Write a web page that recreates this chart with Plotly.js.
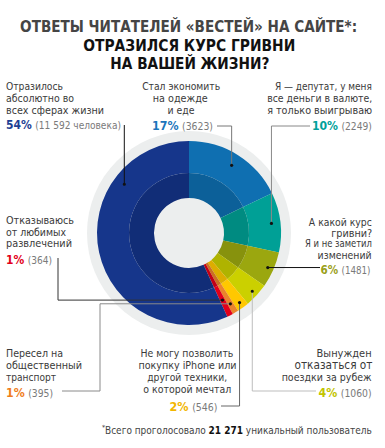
<!DOCTYPE html>
<html><head><meta charset="utf-8">
<script src="https://cdn.plot.ly/plotly-3.0.1.min.js"></script>
<style>html,body{margin:0;padding:0;background:#fff}#c{width:385px;height:448px}</style>
</head><body><div id="c"></div>
<script>
// ---- data ----
var categories = ["Стал экономить на одежде и еде","Я — депутат, у меня все деньги в валюте","А какой курс гривни?","Вынужден отказаться от поездки за рубеж","Не могу позволить покупку iPhone","Пересел на общественный транспорт","Отказываюсь от любимых развлечений","Отразилось абсолютно во всех сферах жизни"];
var percents = [17, 10, 6, 4, 2, 1, 1, 54];
var counts = ["3623", "2249", "1481", "1060", "546", "395", "364", "11 592 человека"];
var totalVoters = "21 271";

// ---- styles ----
var W = 385, H = 448;
var outerColors = ["#0f6fb1","#00a096","#9ba70f","#cbd000","#ffc800","#ea842c","#e2001b","#16368b"];
var innerColors = ["#0c6099","#008b81","#87920d","#afb300","#ddad00","#cb7022","#c20016","#112d77"];
var pctColors  = ["#1b75bb","#00a19a","#9aa01a","#c2c400","#f2b600","#f07d1a","#e2001a","#1d3f94"];
var cx = 189, cy = 233, rGrey = 102, rOuter = 92, rMid = 60, rHole = 35;
var FONT = "DejaVu Sans Condensed, DejaVu Sans, sans-serif";

function dom(r){ return {x:[(cx-r)/W,(cx+r)/W], y:[(H-cy-r)/H,(H-cy+r)/H]}; }
function pie(vals, colors, r, rin){
  return {type:'pie', values:vals, marker:{colors:colors, line:{width:0}}, sort:false,
    direction:'clockwise', rotation:0, hole:rin/r, domain:dom(r), textinfo:'none',
    hoverinfo:'none', showlegend:false};
}
var traces = [
  pie([1], ["#eceeee"], rGrey, 0),
  pie(percents, outerColors, rOuter, rMid),
  pie(percents, innerColors, rMid, rHole)
];

// dot positions from slice angles
var total = percents.reduce(function(a,b){return a+b;},0);
var cum = 0, mids = [];
percents.forEach(function(v){ mids.push((cum + v/2)/total*360); cum += v; });
var dotR = [80, 83, 86, 86, 86, 82, 75, 81];
var dotAngle = mids.slice(); dotAngle[7] = 307;
function dot(i){ var a = dotAngle[i]*Math.PI/180; return [cx + dotR[i]*Math.sin(a), cy - dotR[i]*Math.cos(a)]; }

var shapes = [];
function px(x){return x/W;} function py(y){return 1-y/H;}
function poly(pts, color){
  for (var k=0;k<pts.length-1;k++){
    shapes.push({type:'line', xref:'paper', yref:'paper', x0:px(pts[k][0]), y0:py(pts[k][1]), x1:px(pts[k+1][0]), y1:py(pts[k+1][1]), line:{color:color, width:1}});
  }
}
function marker(p){
  shapes.push({type:'circle', xref:'paper', yref:'paper', x0:px(p[0]-1.6), x1:px(p[0]+1.6), y0:py(p[1]+1.6), y1:py(p[1]-1.6), fillcolor:'#111', line:{width:0}});
}
var d;
d=dot(7); poly([d,[d[0],125]], '#111');
d=dot(0); poly([d,[d[0],126],[217,126]], '#777');
d=dot(1); poly([d,[d[0],126],[310,126]], '#888');
d=dot(2); poly([d,[320,d[1]]], '#111');
d=dot(3); poly([d,[d[0],391],[316,391]], '#bdbdbd');
d=dot(4); poly([d,[d[0],406],[221,406]], '#666');
d=dot(5); poly([d,[100,d[1]],[100,391],[62,391]], '#8a8a8a');
d=dot(6); poly([d,[58,d[1]],[58,258]], '#333');
for (var i=0;i<8;i++) marker(dot(i));

// ---- text ----
var specs = [];
function txt(x0, x1, y, t, anchor, size, color){
  specs.push({x0:x0, x1:x1, y:y, anchor:anchor, size:size||11.5, color:color||'#3a3a3a', build:function(){return t;}});
}
function pct(i, x0, x1, y, anchor){
  specs.push({x0:x0, x1:x1, y:y, anchor:anchor, size:13, color:'#3a3a3a', build:function(s){
    return '<b><span style="color:'+pctColors[i]+'">'+percents[i]+'%</span></b> <span style="color:#7a7a7a;font-size:'+(s*0.84).toFixed(1)+'px">('+counts[i]+')</span>';
  }});
}
function makeAnn(sp, s){
  var x = sp.anchor==='left' ? sp.x0 : sp.anchor==='right' ? sp.x1 : (sp.x0+sp.x1)/2;
  return {xref:'paper', yref:'paper', x:px(x), y:py(sp.y), xanchor:sp.anchor, yanchor:'middle', align:sp.anchor,
    showarrow:false, borderpad:0, text:sp.build(s), font:{family:FONT, size:s, color:sp.color}};
}
txt(20, 357, 27, '<b>ОТВЕТЫ ЧИТАТЕЛЕЙ «ВЕСТЕЙ» НА САЙТЕ*:</b>', 'center', 18, '#454545');
txt(83, 295, 45, '<b>ОТРАЗИЛСЯ КУРС ГРИВНИ</b>', 'center', 18, '#111');
txt(110, 269, 63, '<b>НА ВАШЕЙ ЖИЗНИ?</b>', 'center', 18, '#111');

txt(5, 62, 86, 'Отразилось', 'left'); txt(5, 73, 98, 'абсолютно во', 'left'); txt(5, 103, 110, 'всех сферах жизни', 'left');
pct(7, 5, 120, 125, 'left');
txt(142, 220, 86, 'Стал экономить', 'center'); txt(153, 208, 98, 'на одежде', 'center'); txt(167, 194, 110, 'и еде', 'center');
pct(0, 152, 213, 125, 'center');
txt(276, 373, 86, 'Я — депутат, у меня', 'right'); txt(268, 373, 98, 'все деньги в валюте,', 'right'); txt(268, 373, 110, 'я только выигрываю', 'right');
pct(1, 313, 373, 125, 'right');

txt(5, 73, 220, 'Отказываюсь', 'left'); txt(5, 65, 232, 'от любимых', 'left'); txt(5, 71, 244, 'развлечений', 'left');
pct(6, 5, 51, 260, 'left');
txt(310, 373, 222, 'А какой курс', 'right'); txt(332, 373, 233, 'гривни?', 'right'); txt(306, 373, 244, 'Я и не заметил', 'right'); txt(319, 373, 255, 'изменений', 'right');
pct(2, 322, 372, 270, 'right');

txt(5, 62, 353, 'Пересел на', 'left'); txt(5, 81, 365, 'общественный', 'left'); txt(5, 55, 377, 'транспорт', 'left');
pct(5, 5, 52, 392, 'left');
txt(140, 233, 353, 'Не могу позволить', 'center'); txt(138, 236, 365, 'покупку iPhone или', 'center'); txt(147, 227, 377, 'другой техники,', 'center'); txt(143, 231, 389, 'о которой мечтал', 'center');
pct(4, 170, 218, 406, 'right');
txt(318, 373, 353, 'Вынужден', 'right'); txt(295, 373, 365, 'отказаться от', 'right'); txt(283, 373, 377, 'поездки за рубеж', 'right');
pct(3, 320, 373, 392, 'right');

txt(103, 373, 429, '<sup>*</sup>Всего проголосовало <b><span style="color:#111">'+totalVoters+'</span></b> уникальный пользователь', 'right', 11.5, '#444');

var gd = document.getElementById('c');
var sizes = specs.map(function(sp){return sp.size;});
var layout = {width:W, height:H, margin:{l:0,r:0,t:0,b:0}, paper_bgcolor:'#fff',
  showlegend:false, shapes:shapes, annotations:specs.map(function(sp,i){return makeAnn(sp, sizes[i]);})};
function textEl(i){ return gd.querySelector('g.annotation[data-index="'+i+'"] text.annotation-text'); }
Plotly.newPlot(gd, traces, layout, {staticPlot:true}).then(function(){
  // pass 1: shrink the type where the reference's condensed face is much narrower
  specs.forEach(function(sp, i){
    var t = textEl(i); if (!t) return;
    var nat = t.getComputedTextLength(), w = sp.x1 - sp.x0;
    if (nat > 0 && w/nat < 0.97) sizes[i] = sp.size * (w/nat) / 0.97;
  });
  return Plotly.relayout(gd, {annotations: specs.map(function(sp,i){return makeAnn(sp, sizes[i]);})});
}).then(function(){
  // pass 2: fine-fit each line to the width it spans in the reference
  specs.forEach(function(sp, i){
    var t = textEl(i); if (!t) return;
    t.setAttribute('textLength', sp.x1 - sp.x0); t.setAttribute('lengthAdjust', 'spacingAndGlyphs');
  });
});
</script></body></html>
